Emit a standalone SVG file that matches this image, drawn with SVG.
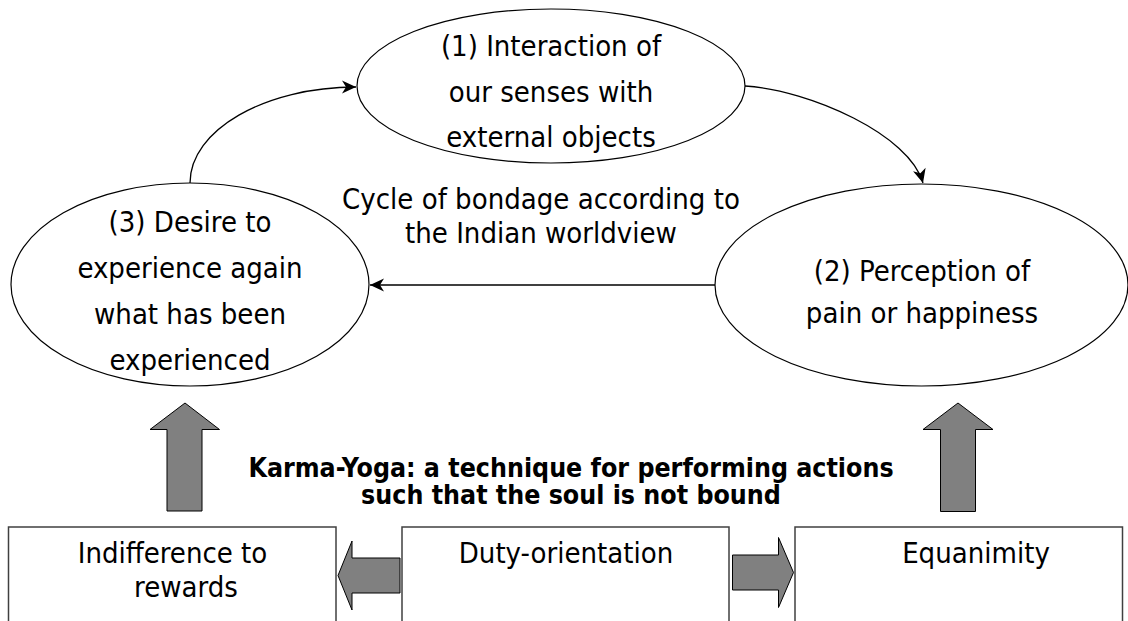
<svg xmlns="http://www.w3.org/2000/svg" width="1128" height="621" viewBox="0 0 1128 621">
<defs>
<style>
.n{fill:#fff;stroke:#000;stroke-width:1.2}
.b{fill:#fff;stroke:#404040;stroke-width:1.5}
.t{font-family:"DejaVu Sans Condensed","DejaVu Sans",sans-serif;font-size:29px;fill:#000;text-anchor:middle}
.k{font-family:"DejaVu Sans Condensed","DejaVu Sans",sans-serif;font-size:26.5px;font-weight:bold;fill:#000;text-anchor:middle}
.c{fill:none;stroke:#000;stroke-width:1.3;marker-end:url(#ah)}
.g{fill:#808080;stroke:#000;stroke-width:1}
</style>
<marker id="ah" markerWidth="16" markerHeight="14" refX="15" refY="7" orient="auto" markerUnits="userSpaceOnUse" viewBox="0 0 16 14">
<path d="M1,0.5 L15,7 L1,13.5 L5,7 Z" fill="#000"/>
</marker>
</defs>
<rect width="1128" height="621" fill="#fff"/>
<g id="connectors">
<path class="c" d="M745,86 C810,90 910,135 923,183"/>
<path class="c" d="M190,183 C190,130 265,87 356,87"/>
<path class="c" d="M715,285 L370,285"/>
</g>
<g id="node1">
<ellipse class="n" cx="551" cy="86" rx="194" ry="77"/>
<text class="t" x="551" y="56">(1) Interaction of</text>
<text class="t" x="551" y="101.5">our senses with</text>
<text class="t" x="551" y="147">external objects</text>
</g>
<g id="node2">
<ellipse class="n" cx="921.5" cy="285" rx="206.5" ry="101"/>
<text class="t" x="922" y="281">(2) Perception of</text>
<text class="t" x="922" y="323">pain or happiness</text>
</g>
<g id="node3">
<ellipse class="n" cx="190" cy="284.5" rx="179" ry="101.5"/>
<text class="t" x="190" y="232">(3) Desire to</text>
<text class="t" x="190" y="278">experience again</text>
<text class="t" x="190" y="324">what has been</text>
<text class="t" x="190" y="370">experienced</text>
</g>
<g id="cycle-label">
<text class="t" x="541" y="209">Cycle of bondage according to</text>
<text class="t" x="541" y="243">the Indian worldview</text>
</g>
<g id="karma-label">
<text class="k" x="571" y="477">Karma-Yoga: a technique for performing actions</text>
<text class="k" x="571" y="504">such that the soul is not bound</text>
</g>
<g id="up-left"><polygon class="g" points="185,403 219.5,429.5 202,429.5 202,511 167,511 167,429.5 150,429.5"/></g>
<g id="up-right"><polygon class="g" points="958,403 993,429.5 975.5,429.5 975.5,511.5 940.5,511.5 940.5,429.5 923,429.5"/></g>
<g id="box-indifference">
<rect class="b" x="8.5" y="527" width="327.5" height="110"/>
<text class="t" x="172.5" y="563">Indifference to</text>
<text class="t" x="186" y="597">rewards</text>
</g>
<g id="box-duty">
<rect class="b" x="402" y="527" width="327" height="110"/>
<text class="t" x="566" y="563">Duty-orientation</text>
</g>
<g id="box-equanimity">
<rect class="b" x="795" y="527" width="327.5" height="110"/>
<text class="t" x="976" y="563">Equanimity</text>
</g>
<g id="arrow-left"><polygon class="g" points="338,575.5 352,541 352,558 400,558 400,593 352,593 352,610"/></g>
<g id="arrow-right"><polygon class="g" points="793.5,572.5 778.5,537.5 778.5,555 732.5,555 732.5,590 778.5,590 778.5,607.5"/></g>
</svg>
